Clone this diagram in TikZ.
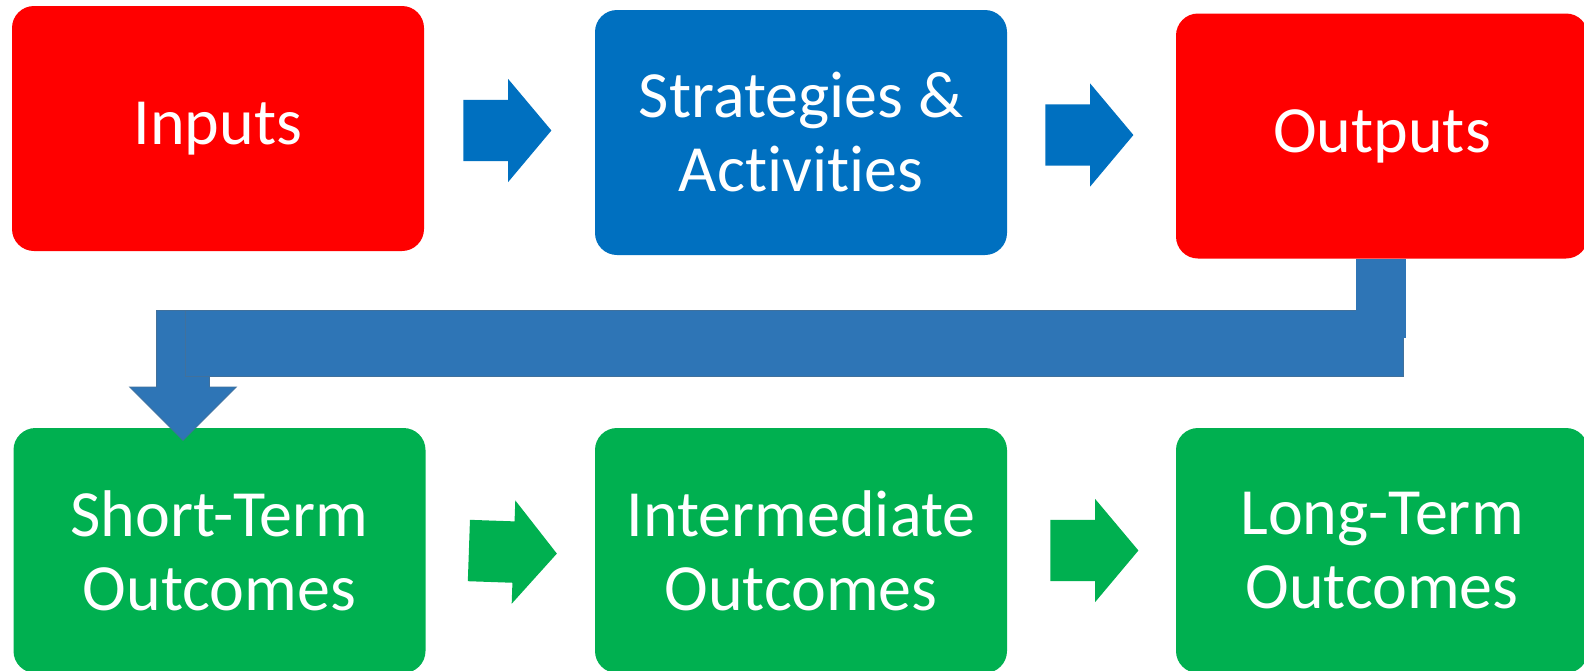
\documentclass[tikz,border=0pt]{standalone}
\usepackage{fontspec}
\setmainfont{Carlito}[Ligatures=NoCommon]
\usetikzlibrary{shapes,arrows,positioning,calc}
\definecolor{stageRed}{HTML}{FF0000}
\definecolor{stageBlue}{HTML}{0070C0}
\definecolor{stageGreen}{HTML}{00B050}
\definecolor{bendBlue}{HTML}{2E75B6}
\definecolor{bendEdge}{HTML}{41719C}
\tikzstyle{stage} = [
  shape=rectangle,
  rounded corners=22pt,
  minimum width=412pt,
  minimum height=245pt,
  inner sep=0pt,
  align=center,
  text=white,
  font=\fontsize{66}{74}\selectfont]
\tikzstyle{blockArrow} = [
  single arrow,
  anchor=tail,
  single arrow head extend=21pt,
  single arrow tip angle=100,
  minimum height=88pt,
  minimum width=103pt,
  inner xsep=0pt,
  inner ysep=30.5pt]

\begin{document}
\begin{tikzpicture}[x=1pt,y=-1pt]
  \useasboundingbox (0,0) rectangle (1584,670);
  % top row
  \node[stage, fill=stageRed] (inputs) at (218,128.5) {Inputs};
  \node[stage, fill=stageBlue] (strategies) at (801,132.5) {Strategies \&\\Activities};
  \node[stage, fill=stageRed] (outputs) at (1382,136) {Outputs};
  % bottom row
  \node[stage, fill=stageGreen] (shortTerm) at (219.5,550.5) {Short-Term\\Outcomes};
  \node[stage, fill=stageGreen] (intermediate) at (801,550.5) {Intermediate\\Outcomes};
  \node[stage, fill=stageGreen] (longTerm) at (1382,550.5) {Long-Term\\Outcomes};
  % arrows between stages
  \node[blockArrow, fill=stageBlue] (inToStr)
    at ([xshift=39pt,yshift=-2pt]inputs.east) {};
  \node[blockArrow, fill=stageBlue] (strToOut)
    at ([xshift=38pt,yshift=-2.5pt]strategies.east) {};
  \node[blockArrow, fill=stageGreen, rotate=-2] (shortToInt)
    at ([xshift=43pt]shortTerm.east) {};
  \node[blockArrow, fill=stageGreen] (intToLong)
    at ([xshift=43pt]intermediate.east) {};
  % bent arrow from outputs back down to short-term
  \coordinate (barStart) at (185,310);
  \coordinate (barEnd) at (1403,376);
  \node[blockArrow, shape border rotate=270,
    minimum height=130pt, minimum width=106pt, inner sep=26pt,
    single arrow head extend=27pt, single arrow tip angle=90,
    fill=bendBlue, draw=bendEdge, line width=0.8pt] (downArrow)
    at ([xshift=-2pt]barStart) {};
  \draw[fill=bendBlue, draw=bendEdge, line width=0.8pt] (barStart) rectangle (barEnd);
  \fill[bendBlue] ([xshift=-26pt]outputs.south) rectangle ([xshift=24pt,yshift=-79pt]outputs.south);
\end{tikzpicture}
\end{document}
